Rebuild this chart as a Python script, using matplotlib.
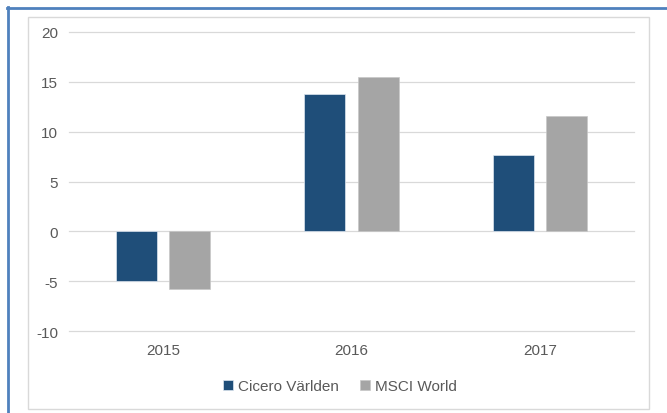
import matplotlib.pyplot as plt
import numpy as np
from matplotlib.lines import Line2D
from matplotlib.patches import Rectangle

years = ["2015", "2016", "2017"]
cicero = [-5.0, 13.8, 7.7]
msci = [-5.8, 15.5, 11.6]
series_names = ["Cicero Världen", "MSCI World"]

plt.rcParams['font.family'] = ['Liberation Sans', 'DejaVu Sans']
plt.rcParams['axes.unicode_minus'] = False

W, H = 667, 414
fig = plt.figure(figsize=(W / 100, H / 100), dpi=100)
ax = fig.add_axes([69 / W, 1 - 332 / H, 565 / W, 299 / H])

x = np.arange(len(years))
bw = 0.218
off = 0.141
ax.bar(x - off, cicero, bw, color='#1F4E79', edgecolor='#DDE6F0', linewidth=0.5,
       label=series_names[0], zorder=3)
ax.bar(x + off, msci, bw, color='#A5A5A5', edgecolor='#C8C8C8', linewidth=0.5,
       label=series_names[1], zorder=3)

ax.set_xlim(-0.5, 2.5)
ax.set_ylim(-10, 20)
ax.set_yticks(range(-10, 21, 5))
ax.set_xticks(x)
ax.set_xticklabels(years)
ax.yaxis.grid(True, color='#D9D9D9', linewidth=0.9, zorder=0)
for gl in ax.get_ygridlines():
    gl.set_clip_on(False)
ax.set_axisbelow(True)
for s in ax.spines.values():
    s.set_visible(False)
ax.tick_params(axis='both', length=0, labelsize=11, labelcolor='#595959')
ax.tick_params(axis='y', pad=8)
ax.tick_params(axis='x', pad=9)

leg = fig.legend(loc='center', bbox_to_anchor=(340 / W, 1 - 387 / H), ncol=2,
                 frameon=False, fontsize=11, handlelength=0.65, handleheight=0.65,
                 handletextpad=0.3, columnspacing=1.4)
for t in leg.get_texts():
    t.set_color('#595959')

# chart frame and blue outer border
fig.add_artist(Rectangle((27.5 / W, 1 - 409.5 / H), 621 / W, 391.5 / H,
                         transform=fig.transFigure, fill=False,
                         edgecolor='#D9D9D9', linewidth=1.0))
fig.add_artist(Line2D([8 / W, 8 / W], [0, 1 - 8 / H], transform=fig.transFigure,
                      color='#4F81BD', linewidth=2))
fig.add_artist(Line2D([7 / W, 1], [1 - 8.5 / H, 1 - 8.5 / H], transform=fig.transFigure,
                      color='#4F81BD', linewidth=2))

fig.savefig('out.png', dpi=100)
